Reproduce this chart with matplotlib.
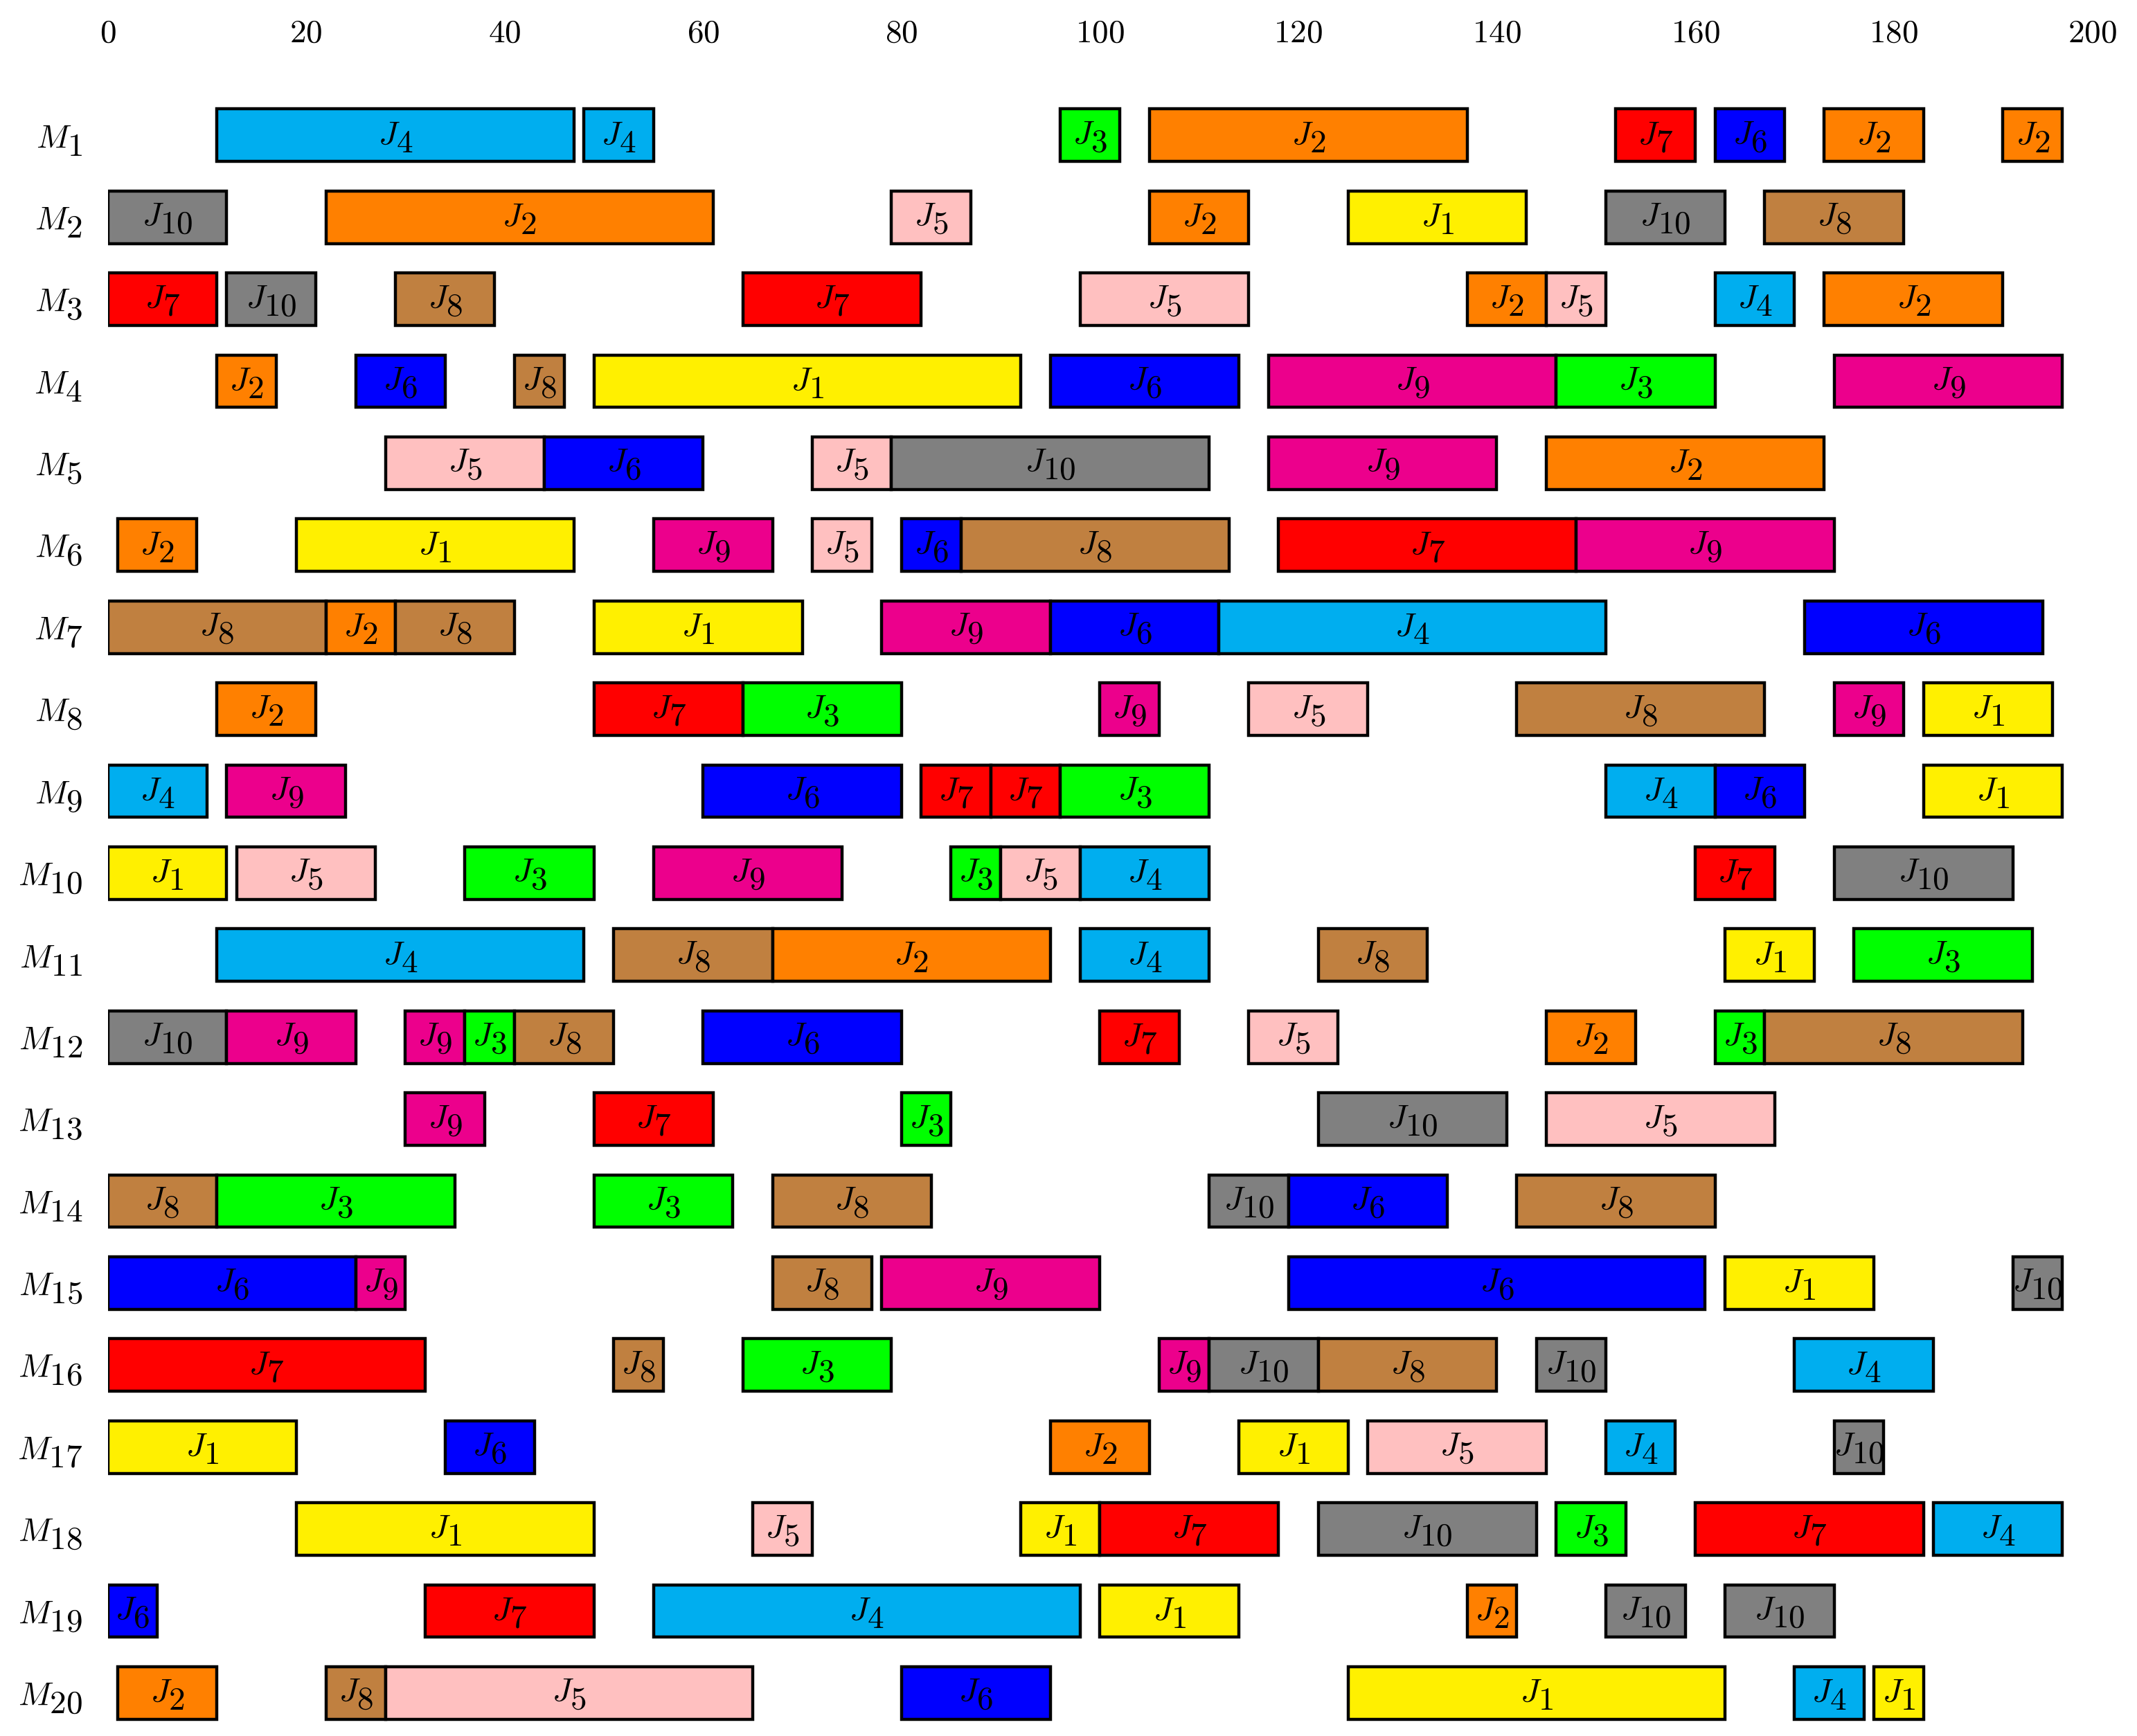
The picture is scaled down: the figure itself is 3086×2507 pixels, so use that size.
import matplotlib
matplotlib.use("Agg")
import matplotlib.pyplot as plt
import matplotlib._mathtext as _mt

# LaTeX-at-small-size look: subscripts as large as the base glyph, slightly dropped
_mt.SHRINK_FACTOR = 1.0
_mt.ComputerModernFontConstants.sub1 = 0.32

plt.rcParams['mathtext.fontset'] = 'cm'
plt.rcParams['font.family'] = 'serif'

machines = [f"M{i}" for i in range(1, 21)]
job_colors = {
    1: "#FFF000", 2: "#FF8000", 3: "#00FF00", 4: "#00AEEF", 5: "#FFC0C0",
    6: "#0000FF", 7: "#FF0000", 8: "#C08040", 9: "#EC008C", 10: "#808080",
}
x_ticks = [0, 20, 40, 60, 80, 100, 120, 140, 160, 180, 200]

# jobs / starts / ends per machine (M1 .. M20)
jobs = [
    [4, 4, 3, 2, 7, 6, 2, 2],
    [10, 2, 5, 2, 1, 10, 8],
    [7, 10, 8, 7, 5, 2, 5, 4, 2],
    [2, 6, 8, 1, 6, 9, 3, 9],
    [5, 6, 5, 10, 9, 2],
    [2, 1, 9, 5, 6, 8, 7, 9],
    [8, 2, 8, 1, 9, 6, 4, 6],
    [2, 7, 3, 9, 5, 8, 9, 1],
    [4, 9, 6, 7, 7, 3, 4, 6, 1],
    [1, 5, 3, 9, 3, 5, 4, 7, 10],
    [4, 8, 2, 4, 8, 1, 3],
    [10, 9, 9, 3, 8, 6, 7, 5, 2, 3, 8],
    [9, 7, 3, 10, 5],
    [8, 3, 3, 8, 10, 6, 8],
    [6, 9, 8, 9, 6, 1, 10],
    [7, 8, 3, 9, 10, 8, 10, 4],
    [1, 6, 2, 1, 5, 4, 10],
    [1, 5, 1, 7, 10, 3, 7, 4],
    [6, 7, 4, 1, 2, 10, 10],
    [2, 8, 5, 6, 1, 4, 1],
]
starts = [
    [11, 48, 96, 105, 152, 162, 173, 191],
    [0, 22, 79, 105, 125, 151, 167],
    [0, 12, 29, 64, 98, 137, 145, 162, 173],
    [11, 25, 41, 49, 95, 117, 146, 174],
    [28, 44, 71, 79, 117, 145],
    [1, 19, 55, 71, 80, 86, 118, 148],
    [0, 22, 29, 49, 78, 95, 112, 171],
    [11, 49, 64, 100, 115, 142, 174, 183],
    [0, 12, 60, 82, 89, 96, 151, 162, 183],
    [0, 13, 36, 55, 85, 90, 98, 160, 174],
    [11, 51, 67, 98, 122, 163, 176],
    [0, 12, 30, 36, 41, 60, 100, 115, 145, 162, 167],
    [30, 49, 80, 122, 145],
    [0, 11, 49, 67, 111, 119, 142],
    [0, 25, 67, 78, 119, 163, 192],
    [0, 51, 64, 106, 111, 122, 144, 170],
    [0, 34, 95, 114, 127, 151, 174],
    [19, 65, 92, 100, 122, 146, 160, 184],
    [0, 32, 55, 100, 137, 151, 163],
    [1, 22, 28, 80, 125, 170, 178],
]
ends = [
    [47, 55, 102, 137, 160, 169, 183, 197],
    [12, 61, 87, 115, 143, 163, 181],
    [11, 21, 39, 82, 115, 145, 151, 170, 191],
    [17, 34, 46, 92, 114, 146, 162, 197],
    [44, 60, 79, 111, 140, 173],
    [9, 47, 67, 77, 86, 113, 148, 174],
    [22, 29, 41, 70, 95, 112, 151, 195],
    [21, 64, 80, 106, 127, 167, 181, 196],
    [10, 24, 80, 89, 96, 111, 162, 171, 197],
    [12, 27, 49, 74, 90, 98, 111, 168, 192],
    [48, 67, 95, 111, 133, 172, 194],
    [12, 25, 36, 41, 51, 80, 108, 124, 154, 167, 193],
    [38, 61, 85, 141, 168],
    [11, 35, 63, 83, 119, 135, 162],
    [25, 30, 77, 100, 161, 178, 197],
    [32, 56, 79, 111, 122, 140, 151, 184],
    [19, 43, 105, 125, 145, 158, 179],
    [49, 71, 100, 118, 144, 153, 183, 197],
    [5, 49, 98, 114, 142, 159, 174],
    [11, 28, 65, 95, 163, 177, 183],
]

W, H, DPI = 3086, 2507, 200
fig = plt.figure(figsize=(W / DPI, H / DPI), dpi=DPI)
ax = fig.add_axes([0.0504, 0.0012, 0.9286, 0.9445])

bar_h = 0.64
for mi in range(len(machines)):
    y = mi + 1
    for j, s, e in zip(jobs[mi], starts[mi], ends[mi]):
        ax.barh(y, e - s, left=s, height=bar_h, color=job_colors[j],
                edgecolor="black", linewidth=1.6, zorder=2)
        ax.text((s + e) / 2, y + 0.02, rf"$J_{{{j}}}$", ha="center", va="center",
                fontsize=17, zorder=3)

ax.set_xlim(0, 200)
ax.set_ylim(20.5, 0.5)
ax.xaxis.tick_top()
ax.set_xticks(x_ticks)
ax.set_xticklabels([rf"$\mathrm{{{t}}}$" for t in x_ticks], fontsize=17)
ax.set_yticks(range(1, 21))
ax.set_yticklabels([rf"$M_{{{m[1:]}}}$" for m in machines], fontsize=17)
ax.tick_params(axis="x", length=0, pad=23.5)
ax.tick_params(axis="y", length=0, pad=13)
for sp in ax.spines.values():
    sp.set_visible(False)

fig.savefig("out.png", dpi=DPI)
